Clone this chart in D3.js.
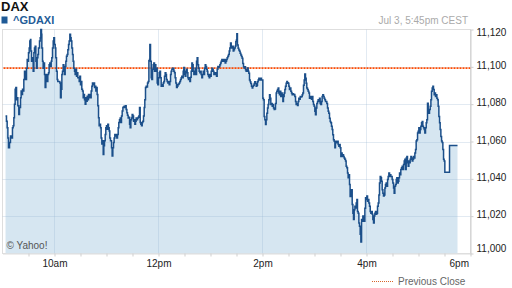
<!DOCTYPE html>
<html>
<head>
<meta charset="utf-8">
<script src="https://cdn.jsdelivr.net/npm/d3@7"></script>
<style>
  body { margin: 0; background: #fff; }
  svg { display: block; font-family: "Liberation Sans", Arial, sans-serif; }
</style>
</head>
<body>
<div id="chart"></div>
<script>
// minutes after 09:00 and index level (step series)
const times = [
  3.5,4.6,5.4,6.2,6.9,8.1,9.2,10.4,11.5,12.3,
  13.1,13.8,14.6,15.4,16.2,16.9,17.7,18.8,19.6,20.8,
  21.5,22.3,23.1,23.8,24.6,25.4,26.2,26.9,27.7,28.5,
  29.2,30.0,30.8,31.5,32.3,32.7,33.5,34.6,35.4,36.2,
  36.9,37.7,38.5,39.2,40.0,40.8,41.5,42.7,43.5,44.2,
  45.0,45.4,46.2,46.9,47.7,48.5,49.2,50.0,50.8,51.5,
  52.3,53.1,53.8,54.6,55.4,56.2,56.9,57.7,58.5,59.2,
  60.0,60.8,61.5,62.3,63.1,63.8,65.0,66.2,66.9,67.7,
  68.5,69.2,70.0,70.8,71.5,72.3,73.1,73.8,74.6,75.4,
  76.2,76.9,77.7,78.5,79.2,80.0,80.8,81.5,82.3,83.1,
  83.8,84.6,85.4,86.2,86.9,87.7,88.5,89.2,90.0,90.8,
  91.5,92.3,93.1,93.8,94.6,95.4,96.2,96.9,97.7,98.5,
  99.2,100.0,100.8,101.5,102.3,103.1,103.8,104.6,105.4,106.2,
  106.9,107.7,108.5,109.2,110.0,110.8,111.5,112.3,113.1,113.8,
  114.6,115.4,116.2,116.9,117.7,118.5,119.2,120.0,120.8,121.5,
  122.3,123.1,123.8,124.6,125.8,126.5,127.3,128.1,128.8,129.6,
  130.4,131.2,131.9,132.7,133.5,134.2,135.0,135.8,136.6,137.3,
  138.1,138.9,139.6,140.4,141.2,141.9,142.7,143.5,144.2,145.0,
  145.8,146.6,147.3,148.1,148.9,149.6,150.4,151.2,151.9,152.7,
  153.5,154.2,155.0,155.8,156.6,157.3,158.1,158.9,159.6,160.4,
  161.2,161.9,162.7,163.5,164.2,165.0,165.8,166.6,167.3,168.1,
  168.9,169.6,170.0,170.8,171.6,172.3,173.1,173.9,174.6,175.4,
  176.2,176.9,177.7,178.5,179.2,180.0,180.8,181.6,182.3,183.1,
  183.9,184.6,185.4,186.2,186.9,187.7,188.5,189.2,190.0,190.8,
  191.6,192.3,193.1,193.9,194.6,195.4,196.2,196.9,197.7,198.5,
  199.2,200.0,200.8,201.6,202.3,203.1,203.9,204.6,205.4,206.2,
  206.9,207.7,208.5,209.2,210.0,210.8,211.6,212.3,213.1,213.9,
  214.6,215.4,216.2,216.9,217.7,218.5,219.2,220.0,220.8,221.6,
  222.3,223.1,223.9,224.6,225.4,226.2,226.9,227.7,228.5,229.2,
  230.0,230.8,231.6,232.3,233.1,233.9,234.6,235.4,236.2,236.9,
  237.7,238.5,239.2,240.0,240.8,241.6,242.3,243.1,243.9,244.6,
  245.4,246.2,246.9,247.7,248.5,249.2,250.0,250.8,251.6,252.3,
  253.1,253.9,254.6,255.4,256.2,256.9,257.7,258.5,259.2,260.0,
  260.8,261.6,262.3,263.1,263.9,264.6,265.4,266.2,266.9,267.7,
  268.5,269.2,270.0,270.4,271.1,271.9,272.7,273.5,274.2,275.0,
  275.8,276.5,277.3,278.1,278.8,279.6,280.4,281.1,281.9,282.7,
  283.5,284.2,285.0,285.8,286.5,287.3,288.1,288.8,289.6,290.4,
  291.1,291.9,292.7,293.5,294.2,295.0,295.8,296.5,297.3,298.1,
  298.8,299.6,300.4,301.1,301.9,302.7,303.5,304.2,305.0,305.8,
  306.5,307.3,308.1,308.8,309.6,310.4,311.2,311.9,312.7,313.5,
  314.2,315.0,315.8,316.5,317.3,318.1,318.8,319.6,320.4,321.1,
  321.9,322.7,323.5,324.2,325.0,325.8,326.5,327.3,328.1,328.8,
  329.6,330.4,331.1,331.9,332.7,333.5,334.2,335.0,335.8,336.5,
  337.3,338.1,338.8,339.6,340.4,341.1,341.9,342.7,343.5,344.2,
  345.0,345.8,346.5,347.3,348.1,348.8,349.6,350.4,351.1,351.9,
  352.7,353.5,354.2,355.0,355.8,356.5,357.3,358.1,358.8,359.6,
  360.4,361.1,361.9,362.7,363.5,364.2,365.0,365.8,366.5,367.3,
  368.1,368.8,369.6,370.4,371.1,371.9,372.7,373.5,374.2,375.0,
  375.8,376.5,377.3,378.1,378.8,379.6,380.4,381.1,381.9,382.7,
  383.5,384.2,385.0,385.8,386.5,387.3,388.1,388.8,389.6,390.4,
  391.1,391.9,392.7,393.5,394.2,395.0,395.8,396.5,397.3,398.1,
  398.8,399.6,400.4,401.1,402.0,402.7,403.5,404.3,405.0,405.8,
  406.6,407.3,408.1,408.9,409.6,410.4,411.2,411.9,412.7,413.5,
  414.3,415.0,415.8,416.6,417.3,418.1,418.9,419.6,420.4,421.2,
  421.9,422.7,423.5,424.3,425.0,425.8,426.6,427.3,428.1,428.9,
  429.6,430.4,431.2,431.9,432.7,433.5,434.3,435.0,435.8,436.6,
  437.3,438.1,438.9,439.6,440.4,441.2,441.9,442.7,443.5,444.3,
  445.0,445.8,446.6,447.3,448.1,448.9,449.6,450.4,451.2,451.9,
  452.7,453.5,454.3,455.0,455.8,456.6,457.3,458.1,458.9,459.6,
  460.4,461.2,461.9,462.7,463.5,464.3,465.0,465.8,466.6,467.3,
  468.1,468.9,469.6,470.4,471.2,472.0,472.7,473.5,474.3,475.0,
  475.8,476.6,477.3,478.1,478.9,479.6,480.4,481.2,481.9,482.7,
  483.5,484.3,485.0,485.8,486.6,487.3,488.1,488.9,489.6,490.4,
  491.2,492.0,492.7,493.5,494.3,495.0,495.8,496.6,497.3,498.1,
  498.9,499.6,500.4,501.2,502.0,502.7,503.5,504.3,505.0,505.8,
  506.6,507.3,508.1,508.9,509.6,510.4,515.8,525
];
const prices = [
  11073.6,11070.8,11067.4,11061.9,11056.7,11059.5,11062.9,11061.9,11067.4,11068.4,
  11072.7,11079.9,11088.0,11088.9,11082.4,11083.4,11079.1,11074.5,11078.2,11083.4,
  11087.0,11085.2,11088.0,11087.0,11093.2,11097.7,11094.1,11093.2,11099.3,11103.9,
  11103.0,11107.5,11110.1,11113.8,11114.7,11108.5,11103.0,11104.8,11097.7,11107.5,
  11110.1,11111.0,11103.0,11099.3,11104.8,11106.6,11110.1,11113.8,11115.6,11120.0,
  11117.4,11110.1,11103.0,11099.3,11102.0,11095.9,11088.9,11094.1,11095.9,11092.2,
  11095.9,11096.8,11101.1,11102.0,11100.2,11103.0,11104.8,11110.1,11113.8,11115.6,
  11111.9,11110.1,11104.8,11097.7,11093.2,11092.2,11092.2,11091.3,11083.4,11088.0,
  11095.9,11097.7,11101.1,11098.7,11095.9,11100.2,11103.0,11105.7,11106.6,11109.2,
  11111.9,11113.8,11117.4,11115.6,11113.8,11110.1,11106.6,11103.0,11099.3,11097.7,
  11095.9,11098.7,11095.0,11096.8,11094.1,11094.1,11092.2,11095.0,11090.4,11092.2,
  11088.0,11087.0,11083.4,11085.2,11082.4,11079.9,11083.4,11081.5,11084.3,11082.4,
  11085.2,11083.4,11085.2,11083.4,11087.0,11089.6,11091.3,11090.4,11091.3,11088.9,
  11089.6,11087.0,11088.9,11085.2,11079.1,11072.7,11068.4,11069.3,11067.4,11061.9,
  11058.6,11060.4,11053.1,11057.7,11060.4,11063.8,11067.4,11068.4,11066.5,11069.3,
  11067.4,11065.6,11061.9,11060.4,11056.7,11052.2,11056.7,11059.5,11061.9,11063.8,
  11062.9,11063.8,11061.9,11063.8,11067.4,11070.2,11071.7,11072.6,11070.2,11073.6,
  11076.3,11078.2,11078.5,11078.9,11078.2,11079.1,11077.2,11075.4,11074.1,11072.6,
  11073.0,11069.3,11067.4,11071.7,11072.6,11074.5,11073.6,11070.8,11071.7,11069.3,
  11070.8,11072.6,11071.7,11072.6,11073.0,11073.6,11078.2,11070.2,11069.3,11068.4,
  11070.2,11070.8,11073.6,11078.2,11082.4,11088.9,11089.6,11089.2,11091.3,11092.2,
  11103.3,11103.9,11111.9,11103.0,11094.1,11093.2,11098.7,11101.1,11102.0,11097.7,
  11101.1,11097.7,11099.3,11091.3,11090.4,11094.1,11096.8,11097.7,11094.1,11089.6,
  11090.4,11089.6,11091.3,11092.2,11095.0,11096.8,11095.9,11093.2,11092.2,11091.3,
  11092.2,11090.4,11092.2,11095.9,11097.7,11098.7,11099.3,11099.3,11097.7,11096.8,
  11094.1,11091.3,11088.9,11089.6,11090.4,11090.8,11091.3,11092.2,11093.2,11094.1,
  11095.0,11094.1,11097.7,11099.6,11095.9,11095.0,11097.7,11098.7,11096.8,11094.1,
  11093.2,11094.1,11092.2,11094.4,11097.7,11102.0,11101.1,11097.7,11095.9,11097.7,
  11099.3,11095.9,11103.0,11104.8,11101.1,11099.3,11097.7,11096.8,11097.7,11095.9,
  11094.1,11095.9,11097.7,11095.9,11099.3,11101.1,11100.2,11098.7,11097.7,11095.9,
  11095.0,11094.1,11095.9,11095.0,11097.7,11099.3,11098.7,11097.7,11095.9,11096.8,
  11095.9,11096.8,11095.0,11098.7,11100.2,11099.6,11100.2,11101.1,11102.0,11103.0,
  11103.9,11103.0,11103.9,11103.0,11103.9,11102.0,11103.0,11103.9,11104.8,11105.7,
  11106.6,11108.5,11110.1,11112.8,11111.0,11110.1,11111.0,11108.5,11109.2,11110.1,
  11111.0,11113.6,11114.5,11117.7,11111.7,11109.9,11109.0,11108.3,11107.3,11106.4,
  11105.5,11104.6,11101.8,11100.0,11099.4,11100.0,11098.5,11097.6,11098.5,11099.4,
  11097.6,11096.6,11093.0,11092.0,11091.1,11089.6,11088.7,11089.6,11090.2,11091.1,
  11092.0,11091.1,11089.6,11090.2,11092.0,11093.0,11093.9,11093.0,11093.3,11093.9,
  11093.0,11093.0,11083.2,11082.3,11073.4,11071.6,11069.1,11071.6,11075.2,11078.0,
  11079.8,11082.3,11085.0,11083.2,11079.8,11080.4,11078.9,11079.8,11078.0,11077.1,
  11077.4,11080.4,11086.0,11086.9,11087.8,11088.7,11086.0,11085.0,11086.9,11084.1,
  11086.0,11085.0,11081.4,11084.1,11086.0,11087.8,11089.6,11091.2,11092.1,11091.5,
  11091.2,11089.6,11087.8,11088.7,11086.9,11086.0,11085.0,11085.6,11085.0,11085.2,
  11084.1,11081.4,11079.8,11080.4,11079.3,11081.4,11083.2,11082.7,11084.1,11083.8,
  11084.1,11085.0,11086.0,11090.2,11093.0,11096.1,11093.9,11091.2,11088.7,11087.8,
  11086.9,11086.0,11083.2,11084.1,11083.2,11082.7,11084.1,11081.4,11079.8,11078.9,
  11076.2,11074.3,11078.0,11080.4,11081.4,11082.3,11081.4,11083.2,11080.4,11079.8,
  11081.4,11084.1,11085.0,11084.1,11083.2,11082.3,11081.4,11081.4,11080.4,11078.0,
  11076.2,11075.2,11072.5,11070.7,11070.0,11068.2,11066.4,11063.6,11060.9,11060.2,
  11056.6,11059.3,11060.2,11059.3,11060.2,11058.4,11057.5,11058.4,11056.6,11052.0,
  11053.8,11052.0,11052.9,11052.0,11051.1,11050.5,11049.5,11046.8,11045.9,11043.1,
  11040.6,11042.2,11036.9,11030.6,11032.3,11034.1,11026.2,11021.6,11018.2,11023.4,
  11025.3,11024.4,11027.1,11028.9,11022.5,11021.6,11016.4,11014.6,11010.3,11006.1,
  11018.2,11017.3,11020.1,11018.2,11017.3,11024.3,11029.9,11028.9,11030.8,11028.0,
  11028.9,11027.1,11025.3,11022.5,11021.6,11022.5,11021.0,11018.2,11016.4,11020.1,
  11021.6,11022.5,11021.0,11021.6,11025.3,11027.1,11031.4,11037.8,11041.3,11040.6,
  11038.7,11034.1,11032.3,11030.8,11031.4,11035.1,11036.9,11037.8,11036.0,11039.6,
  11041.3,11043.1,11041.3,11042.2,11041.3,11041.3,11039.6,11037.8,11035.1,11032.3,
  11036.0,11036.9,11039.6,11040.6,11037.8,11038.7,11040.6,11043.1,11042.2,11045.0,
  11045.9,11046.8,11045.0,11047.7,11049.5,11050.5,11045.0,11051.1,11052.0,11048.6,
  11046.8,11049.5,11048.6,11050.5,11052.0,11051.1,11049.5,11050.5,11052.0,11051.1,
  11053.8,11055.7,11060.3,11060.9,11064.5,11065.5,11067.3,11064.5,11066.4,11068.2,
  11070.0,11070.7,11068.2,11067.3,11066.4,11064.5,11067.3,11070.0,11071.6,11080.5,
  11076.2,11075.2,11077.1,11078.9,11082.3,11086.9,11088.7,11089.6,11087.8,11085.0,
  11086.0,11084.1,11085.0,11083.2,11082.3,11078.9,11073.4,11070.0,11066.4,11062.7,
  11060.3,11059.4,11055.7,11050.5,11049.5,11043.5,11057.9,11057.9
];
const previousClose = 11099.3;

const yTicks = [11000, 11020, 11040, 11060, 11080, 11100, 11120];
const xTickMinutes = [60, 180, 300, 420, 540];
const xTickLabels = ['10am', '12pm', '2pm', '4pm', '6pm'];

const width = 512, height = 288;
const plotLeft = 2.5, plotRight = 470.5, plotTop = 29.5, plotBottom = 253.5;

const svg = d3.select('#chart')
  .append('svg')
    .attr('width', width)
    .attr('height', height);

const x = d3.scaleLinear().domain([0, 540]).range([plotLeft, plotRight]);
const y = d3.scaleLinear().domain([11000, 11120]).range([plotBottom, plotTop]);

const data = times.map((t, i) => ({ t: t, p: prices[i] }));

/* FRAME */
svg.append('rect')
  .attr('x', plotLeft).attr('y', plotTop)
  .attr('width', plotRight - plotLeft).attr('height', plotBottom - plotTop)
  .attr('fill', '#fff')
  .attr('stroke', '#dedede');

/* AREA */
const area = d3.area()
  .curve(d3.curveStepAfter)
  .x(d => x(d.t))
  .y0(plotBottom)
  .y1(d => y(d.p));
svg.append('path')
  .datum(data)
  .attr('d', area)
  .attr('fill', '#d6e6f1');

/* GRID */
const grid = svg.append('g').attr('stroke', 'rgba(150,180,210,0.28)').attr('stroke-width', 1);
grid.selectAll('.hgrid')
  .data(yTicks.filter(v => v > 11000 && v < 11120))
  .join('line')
    .attr('class', 'hgrid')
    .attr('x1', plotLeft).attr('x2', plotRight)
    .attr('y1', d => Math.round(y(d)) + 0.5)
    .attr('y2', d => Math.round(y(d)) + 0.5);
grid.selectAll('.vgrid')
  .data(xTickMinutes.filter(m => m < 540))
  .join('line')
    .attr('class', 'vgrid')
    .attr('y1', plotTop).attr('y2', plotBottom)
    .attr('x1', d => x(d)).attr('x2', d => x(d));

/* PREVIOUS CLOSE */
svg.append('line')
  .attr('x1', plotLeft + 1).attr('x2', plotRight)
  .attr('y1', y(previousClose)).attr('y2', y(previousClose))
  .attr('stroke', '#ff4a00')
  .attr('stroke-width', 1.6)
  .attr('stroke-dasharray', '2,1');

/* PRICE LINE */
const line = d3.line()
  .curve(d3.curveStepAfter)
  .x(d => x(d.t))
  .y(d => y(d.p));
svg.append('path')
  .datum(data)
  .attr('d', line)
  .attr('fill', 'none')
  .attr('stroke', '#1b4f8a')
  .attr('stroke-width', 1.5);

/* AXES */
const yAxis = svg.append('g')
  .attr('transform', `translate(${plotRight},0)`)
  .call(d3.axisRight(y).tickValues(yTicks).tickSize(3).tickSizeOuter(0).tickPadding(3).tickFormat(d3.format(',')));
yAxis.select('.domain').attr('stroke', '#cfcfcf');
yAxis.selectAll('.tick line').attr('stroke', '#cfcfcf');
yAxis.selectAll('.tick text')
  .attr('fill', '#222')
  .attr('font-size', 10)
  .attr('font-family', '"Liberation Sans", Arial, sans-serif')
  .attr('y', d => d === 11120 ? 3 : (d === 11000 ? -5 : -1.5));

const minorTicks = d3.range(30, 541, 30);
const xMinor = svg.append('g')
  .attr('transform', `translate(0,${plotBottom})`)
  .call(d3.axisBottom(x).tickValues(minorTicks).tickSize(3).tickSizeOuter(0).tickFormat(''));
xMinor.select('.domain').attr('stroke', '#dedede');
xMinor.selectAll('.tick line').attr('stroke', '#cfcfcf');

const xAxis = svg.append('g')
  .attr('transform', `translate(0,${plotBottom})`)
  .call(d3.axisBottom(x).tickValues(xTickMinutes).tickSize(0).tickPadding(6.5).tickFormat((d, i) => xTickLabels[i]));
xAxis.select('.domain').remove();
xAxis.selectAll('.tick text')
  .attr('fill', '#222')
  .attr('font-size', 10)
  .attr('font-family', '"Liberation Sans", Arial, sans-serif')
  .attr('text-anchor', d => d === 540 ? 'end' : 'middle')
  .attr('x', d => d === 540 ? -2 : 0);

/* TEXTS */
svg.append('text')
  .attr('x', 1).attr('y', 11)
  .attr('font-size', 13).attr('font-weight', 'bold').attr('fill', '#111')
  .text('DAX');
svg.append('rect')
  .attr('x', 1.5).attr('y', 16.5).attr('width', 6).attr('height', 7)
  .attr('fill', '#1f5a96');
svg.append('text')
  .attr('x', 13).attr('y', 24)
  .attr('font-size', 11).attr('font-weight', 'bold').attr('fill', '#245c97')
  .text('^GDAXI');
svg.append('text')
  .attr('x', 468).attr('y', 24)
  .attr('text-anchor', 'end')
  .attr('font-size', 10).attr('fill', '#aaa')
  .text('Jul 3, 5:45pm CEST');
svg.append('text')
  .attr('x', 6.5).attr('y', 249)
  .attr('font-size', 10).attr('fill', '#555')
  .text('© Yahoo!');

/* LEGEND */
svg.append('line')
  .attr('x1', 372).attr('x2', 394)
  .attr('y1', 281.5).attr('y2', 281.5)
  .attr('stroke', '#d9652a')
  .attr('stroke-width', 1)
  .attr('stroke-dasharray', '1,1');
svg.append('text')
  .attr('x', 398).attr('y', 284.5)
  .attr('font-size', 10).attr('fill', '#666')
  .text('Previous Close');
</script>
</body>
</html>
